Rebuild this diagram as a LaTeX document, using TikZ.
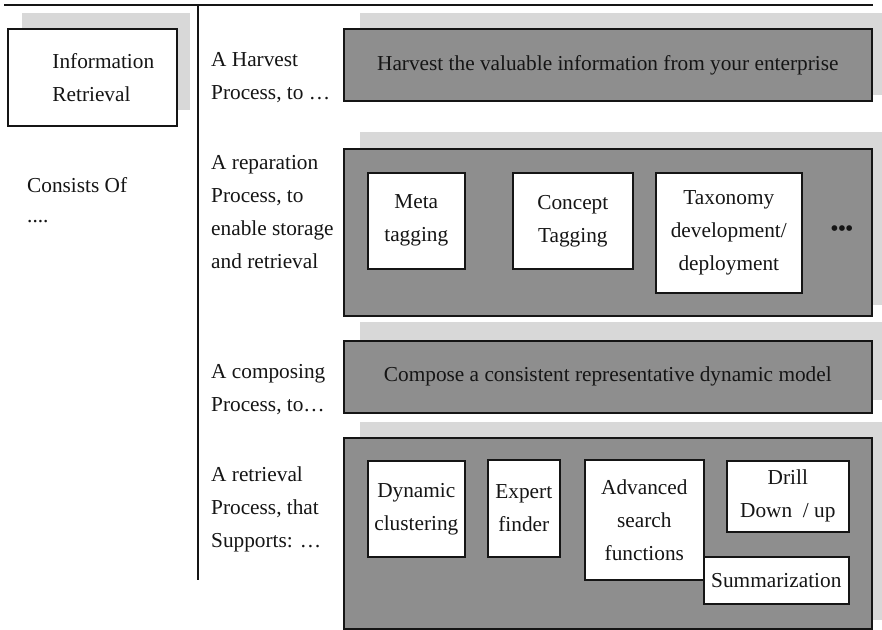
\documentclass[tikz,border=0pt]{standalone}
\usepackage{fontspec}
\setmainfont{Liberation Serif}
\definecolor{panelgray}{HTML}{8E8E8E}
\definecolor{shadowgray}{HTML}{D8D8D8}
\definecolor{ink}{HTML}{151515}
\begin{document}
\begin{tikzpicture}[x=1pt,y=-1pt,
  txt/.style={font=\fontsize{21.3}{33}\selectfont, text=ink},
  panel/.style={draw=ink, line width=1.6pt, fill=panelgray, inner sep=0pt,
    anchor=north west, txt, minimum width=528pt},
  itembox/.style={draw=ink, line width=1.6pt, fill=white, inner sep=0pt,
    anchor=north west, align=center, txt},
  sidelabel/.style={anchor=north west, align=left, inner sep=0pt, txt},
  shade/.style={fill=shadowgray, draw=none}]
\useasboundingbox (0,0) rectangle (882,629);

% drop shadows behind the boxes
\fill[shade] (22,13) rectangle (190,110);
\fill[shade] (360,13) rectangle (882,95);
\fill[shade] (360,132) rectangle (882,305);
\fill[shade] (360,322) rectangle (882,400);
\fill[shade] (360,422) rectangle (882,620);

% frame lines
\coordinate (topL) at (4,5);
\coordinate (topR) at (873,5);
\coordinate (divT) at (198,5);
\coordinate (divB) at (198,580);
\draw[ink, line width=1.6pt] (topL) -- (topR);
\draw[ink, line width=1.6pt] (divT) -- (divB);

% left column
\node[draw=ink, line width=1.6pt, fill=white, anchor=north west, inner sep=0pt,
  minimum width=169pt, minimum height=97pt, align=left, txt]
  (info) at (7,28) {\hspace*{22pt}Information\\\hspace*{22pt}Retrieval};
\node[sidelabel] (consists) at (27,177) {Consists Of\\[-3pt]....};

% process labels
\node[sidelabel] (lharvest) at (211,52) {A Harvest\\Process, to \dots};
\node[sidelabel] (lprep) at (211,155) {A reparation\\Process, to\\enable storage\\and retrieval};
\node[sidelabel] (lcompose) at (211,364) {A composing\\Process, to\dots};
\node[sidelabel] (lretr) at (211,467) {A retrieval\\Process, that\\Supports: \dots};

% process panels
\node[panel, minimum height=72pt] (harvest) at (343,28)
  {Harvest the valuable information from your enterprise};
\node[panel, minimum height=167pt] (prep) at (343,148) {};
\node[panel, minimum height=72pt] (compose) at (343,340)
  {Compose a consistent representative dynamic model};
\node[panel, minimum height=191pt] (retr) at (343,437) {};

% preparation steps
\node[itembox, minimum width=97pt, minimum height=96pt] (meta) at (367,172) {Meta\\tagging};
\node[itembox, minimum width=120pt, minimum height=96pt] (concept) at (512,172) {Concept\\Tagging};
\node[itembox, minimum width=146pt, minimum height=120pt] (taxo) at (655,172) {Taxonomy\\development/\\deployment};
\node[inner sep=0pt, font=\fontsize{21}{21}\selectfont\bfseries, text=ink] (more) at (842,231) {•••};

% retrieval functions
\node[itembox, minimum width=97pt, minimum height=96pt] (dyn) at (367,460) {Dynamic\\clustering};
\node[itembox, minimum width=72pt, minimum height=97pt] (expert) at (487,459) {Expert\\finder};
\node[itembox, minimum width=119pt, minimum height=120pt] (adv) at (584,459) {Advanced\\search\\functions};
\node[itembox, minimum width=122pt, minimum height=71pt] (drill) at (726,460) {Drill\\Down~~/ up};
\node[itembox, minimum width=145pt, minimum height=47pt] (summ) at (703,556) {Summarization};
\end{tikzpicture}
\end{document}
